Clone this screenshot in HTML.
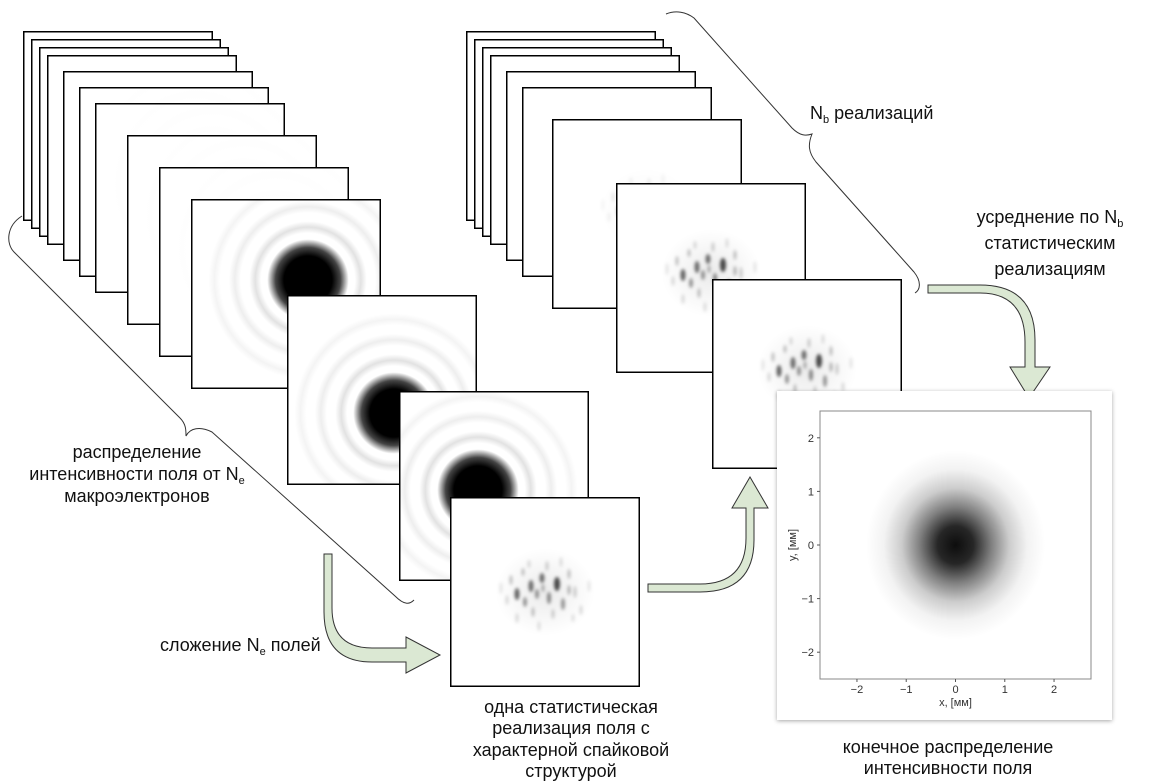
<!DOCTYPE html>
<html><head><meta charset="utf-8">
<style>
html,body{margin:0;padding:0;background:#fff;}
svg{display:block;font-family:"Liberation Sans","DejaVu Sans",sans-serif;}
.lbl{font-size:18px;fill:#111;}
.tick{font-size:11px;fill:#333;}
</style></head>
<body>
<svg id="root" width="1149" height="781" viewBox="0 0 1149 781" xmlns="http://www.w3.org/2000/svg">
<defs>
  <radialGradient id="airy">
    <stop offset="0" stop-color="#000"/>
    <stop offset="0.2" stop-color="#000"/>
    <stop offset="0.27" stop-color="#444"/>
    <stop offset="0.34" stop-color="#fff"/>
    <stop offset="0.39" stop-color="#fff"/>
    <stop offset="0.44" stop-color="#e2e2e2"/>
    <stop offset="0.49" stop-color="#fff"/>
    <stop offset="0.56" stop-color="#fff"/>
    <stop offset="0.61" stop-color="#eeeeee"/>
    <stop offset="0.66" stop-color="#fff"/>
    <stop offset="0.73" stop-color="#fff"/>
    <stop offset="0.78" stop-color="#f4f4f4"/>
    <stop offset="0.83" stop-color="#fff"/>
    <stop offset="1" stop-color="#fff" stop-opacity="0"/>
  </radialGradient>
  <radialGradient id="halo">
    <stop offset="0" stop-color="#000" stop-opacity="0.08"/>
    <stop offset="1" stop-color="#000" stop-opacity="0"/>
  </radialGradient>
  <radialGradient id="beam">
    <stop offset="0" stop-color="#000" stop-opacity="0.95"/>
    <stop offset="0.2" stop-color="#000" stop-opacity="0.85"/>
    <stop offset="0.4" stop-color="#000" stop-opacity="0.5"/>
    <stop offset="0.6" stop-color="#000" stop-opacity="0.2"/>
    <stop offset="0.8" stop-color="#000" stop-opacity="0.05"/>
    <stop offset="1" stop-color="#000" stop-opacity="0"/>
  </radialGradient>
  <filter id="blur1" x="-50%" y="-50%" width="200%" height="200%"><feGaussianBlur stdDeviation="1.6"/></filter>
  <filter id="shadow" x="-5%" y="-5%" width="110%" height="110%"><feDropShadow dx="0" dy="1" stdDeviation="2" flood-color="#000" flood-opacity="0.35"/></filter>
  <g id="speckle">
    <ellipse cx="0" cy="0" rx="50" ry="44" fill="url(#halo)"/>
    <g filter="url(#blur1)" fill="#000">
      <ellipse cx="-28" cy="2" rx="2.5" ry="6" opacity="0.6"/>
      <ellipse cx="-14" cy="-6" rx="2.5" ry="6" opacity="0.55"/>
      <ellipse cx="-3" cy="-14" rx="2.5" ry="5" opacity="0.55"/>
      <ellipse cx="12" cy="-8" rx="3" ry="7" opacity="0.7"/>
      <ellipse cx="4" cy="6" rx="2" ry="6" opacity="0.45"/>
      <ellipse cx="-20" cy="10" rx="2" ry="5" opacity="0.4"/>
      <ellipse cx="-8" cy="2" rx="2" ry="5" opacity="0.4"/>
      <ellipse cx="18" cy="12" rx="2" ry="6" opacity="0.4"/>
      <ellipse cx="-34" cy="-12" rx="1.5" ry="5" opacity="0.25"/>
      <ellipse cx="-22" cy="-20" rx="1.5" ry="4" opacity="0.25"/>
      <ellipse cx="2" cy="-26" rx="1.5" ry="5" opacity="0.2"/>
      <ellipse cx="24" cy="-18" rx="1.5" ry="5" opacity="0.25"/>
      <ellipse cx="30" cy="0" rx="1.5" ry="6" opacity="0.2"/>
      <ellipse cx="-12" cy="20" rx="1.5" ry="5" opacity="0.25"/>
      <ellipse cx="8" cy="22" rx="1.5" ry="5" opacity="0.2"/>
      <ellipse cx="-38" cy="8" rx="1.5" ry="5" opacity="0.15"/>
      <ellipse cx="-28" cy="26" rx="1.5" ry="5" opacity="0.15"/>
      <ellipse cx="36" cy="18" rx="1.5" ry="5" opacity="0.15"/>
      <ellipse cx="-6" cy="34" rx="1.5" ry="5" opacity="0.13"/>
      <ellipse cx="16" cy="-30" rx="1.5" ry="5" opacity="0.13"/>
      <ellipse cx="-44" cy="-4" rx="1.5" ry="6" opacity="0.1"/>
      <ellipse cx="44" cy="-6" rx="1.5" ry="6" opacity="0.1"/>
      <ellipse cx="-2" cy="-4" rx="1.5" ry="4" opacity="0.3"/>
      <ellipse cx="24" cy="-2" rx="1.5" ry="5" opacity="0.3"/>
      <ellipse cx="-16" cy="-28" rx="1.5" ry="4" opacity="0.15"/>
      <ellipse cx="28" cy="26" rx="1.5" ry="4" opacity="0.12"/>
    </g>
  </g>
</defs>

<g id="leftStack"></g>
<g id="midStack"></g>

<path d="M22,216 C6,226 6,244 14,252 L180,418 C186,424 186,430 186,436 C190,428 200,426 212,432 L395,596 C405,606 410,604 414,600" fill="none" stroke="#333" stroke-width="1"/>
<path d="M666,14 C676,10 686,12 694,18 L792,128 C800,136 806,136 812,134 C808,144 808,152 816,162 L914,272 C922,282 920,290 915,293" fill="none" stroke="#333" stroke-width="1"/>

<path d="M324,554 L332,554 L332,608 Q332,648 372,648 L406,648 L406,637 L440,655 L406,673 L406,662 L372,662 Q324,662 324,612 Z" fill="#dbe8d3" stroke="#333" stroke-width="1"/>
<path d="M648,584 L700,584 Q746,584 746,538 L746,508 L732,508 L750,477 L768,508 L754,508 L754,540 Q754,592 700,592 L648,592 Z" fill="#dbe8d3" stroke="#333" stroke-width="1"/>
<path d="M928,285 L980,285 Q1035,285 1035,340 L1035,367 L1050,367 L1029,398 L1010,367 L1025,367 L1025,342 Q1025,293 980,293 L928,293 Z" fill="#dbe8d3" stroke="#333" stroke-width="1"/>

<g>
  <rect x="777" y="391" width="335" height="329" fill="#fff" filter="url(#shadow)"/>
  <svg id="chart" x="0" y="0" width="1149" height="781" overflow="visible"></svg>
</g>

<g class="lbl" text-anchor="middle">
  <text x="137" y="458">распределение</text>
  <text x="137" y="480">интенсивности поля от N<tspan font-size="11" dy="4">e</tspan></text>
  <text x="137" y="502">макроэлектронов</text>
</g>
<text class="lbl" x="810" y="119">N<tspan font-size="11" dy="4">b</tspan><tspan dy="-4"> реализаций</tspan></text>
<g class="lbl" text-anchor="middle">
  <text x="1050" y="223">усреднение по N<tspan font-size="11" dy="4">b</tspan></text>
  <text x="1050" y="249">статистическим</text>
  <text x="1050" y="275">реализациям</text>
</g>
<text class="lbl" x="160" y="651">сложение N<tspan font-size="11" dy="4">e</tspan><tspan dy="-4"> полей</tspan></text>
<g class="lbl" text-anchor="middle">
  <text x="571" y="713">одна статистическая</text>
  <text x="571" y="734">реализация поля с</text>
  <text x="571" y="756">характерной спайковой</text>
  <text x="571" y="777">структурой</text>
</g>
<g class="lbl" text-anchor="middle">
  <text x="948" y="753">конечное распределение</text>
  <text x="948" y="774">интенсивности поля</text>
</g>

<script>
// chart data
const xTicks = [-2, -1, 0, 1, 2];
const yTicks = [2, 1, 0, -1, -2];
const xDomain = [-2.75, 2.75];
const yDomain = [-2.5, 2.5];
const beamCenter = [0.0, 0.0];
const beamSigma = [0.7, 0.68];
const xLabel = "x, [мм]";
const yLabel = "y, [мм]";

const NS = "http://www.w3.org/2000/svg";
function mk(tag, attrs, parent){const e=document.createElementNS(NS,tag);for(const k in attrs)e.setAttribute(k,attrs[k]);parent.appendChild(e);return e;}

const leftFrames = [[23,31],[31,39],[39,47],[47,55],[63,71],[79,87],[95,103],[127,135],[159,167],[191,199],[287,295],[399,391],[450,497]];
const leftBlob = {9:[22,-14,120],10:[12,23,120],11:[-16,4,120]};
const ls = document.getElementById('leftStack');
leftFrames.forEach((f,i)=>{
  const g = mk('g',{},ls);
  
  
  mk('rect',{x:f[0],y:f[1],width:190,height:190,fill:'#fff'},g);
  const cp = 'clipL'+i;
  const c = mk('clipPath',{id:cp},g); mk('rect',{x:f[0],y:f[1],width:190,height:190},c);
  const inner = mk('g',{'clip-path':'url(#'+cp+')'},g);
  if(leftBlob[i]){const b=leftBlob[i];mk('circle',{cx:f[0]+95+b[0],cy:f[1]+95+b[1],r:b[2],fill:'url(#airy)'},inner);}
  else if(i===12){mk('use',{href:'#speckle',transform:'translate('+(f[0]+95)+','+(f[1]+95)+')'},inner);}
  else if(i>=5){mk('circle',{cx:f[0]+117,cy:f[1]+81,r:120,fill:'url(#airy)',opacity:0.06},inner);}
  mk('rect',{x:f[0]+0.75,y:f[1]+0.75,width:188.5,height:188.5,fill:'none',stroke:'#000','stroke-width':1.5},g);
});
const midFrames = [[466,31],[474,39],[482,47],[490,55],[506,71],[522,87],[552,119],[616,183],[712,279]];
const ms = document.getElementById('midStack');
midFrames.forEach((f,i)=>{
  const g = mk('g',{},ms);
  
  
  mk('rect',{x:f[0],y:f[1],width:190,height:190,fill:'#fff'},g);
  const cp='clipM'+i;
  const c = mk('clipPath',{id:cp},g); mk('rect',{x:f[0],y:f[1],width:190,height:190},c);
  const inner = mk('g',{'clip-path':'url(#'+cp+')'},g);
  if(i>=6) mk('use',{href:'#speckle',transform:'translate('+(f[0]+95)+','+(f[1]+90)+')',opacity:i===6?0.4:1},inner);
  mk('rect',{x:f[0]+0.75,y:f[1]+0.75,width:188.5,height:188.5,fill:'none',stroke:'#000','stroke-width':1.5},g);
});

const chart = document.getElementById('chart');
const L=820,R=1091,T=411,B=679;
const xs = v => L + (v-xDomain[0])/(xDomain[1]-xDomain[0])*(R-L);
const ys = v => B - (v-yDomain[0])/(yDomain[1]-yDomain[0])*(B-T);
const cpc = mk('clipPath',{id:'plotclip'},chart); mk('rect',{x:L,y:T,width:R-L,height:B-T},cpc);
const plot = mk('g',{'clip-path':'url(#plotclip)'},chart);
const beam = mk('ellipse',{cx:xs(beamCenter[0]),cy:ys(beamCenter[1]),rx:(xs(beamSigma[0]*2.6)-xs(0)),ry:(ys(0)-ys(beamSigma[1]*2.6)),fill:'url(#beam)'},plot);


const frame = mk('rect',{x:L,y:T,width:R-L,height:B-T,fill:'none',stroke:'#888','stroke-width':1},chart);


xTicks.forEach(v=>{
  const x=xs(v);
  mk('line',{x1:x,x2:x,y1:B,y2:B+3,stroke:'#555'},chart);
  const t=mk('text',{x:x,y:B+14,'text-anchor':'middle',class:'tick'},chart);
  t.textContent = v<0 ? '\u2212'+Math.abs(v) : String(v);
  
  
});
yTicks.forEach(v=>{
  const y=ys(v);
  mk('line',{x1:L-3,x2:L,y1:y,y2:y,stroke:'#555'},chart);
  const t=mk('text',{x:L-6,y:y+4,'text-anchor':'end',class:'tick'},chart);
  t.textContent = v<0 ? '\u2212'+Math.abs(v) : String(v);
  
  
});
const xl = mk('text',{x:(L+R)/2,y:B+27,'text-anchor':'middle',class:'tick'},chart);
xl.textContent = xLabel;


const yl = mk('text',{x:0,y:0,'text-anchor':'middle',class:'tick',transform:'translate('+(L-24)+','+((T+B)/2)+') rotate(-90)'},chart);
yl.textContent = yLabel;


</script>
</svg>
</body></html>
